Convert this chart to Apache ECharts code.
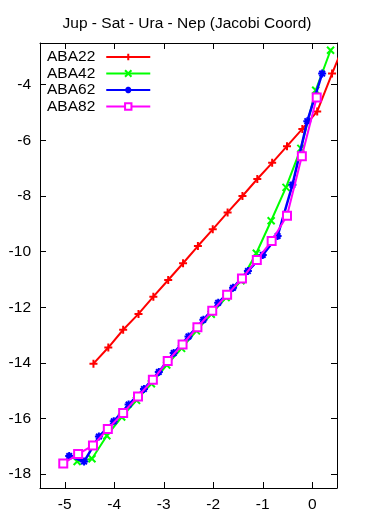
<!DOCTYPE html>
<html>
<head>
<meta charset="utf-8">
<script src="https://cdn.jsdelivr.net/npm/echarts@6/dist/echarts.min.js"></script>
<style>
html,body{margin:0;padding:0;background:#fff;}
#chart{width:374px;height:519px;}
</style>
</head>
<body>
<div id="chart"></div>
<script>
// ---- data ----
const titleText = 'Jup - Sat - Ura - Nep (Jacobi Coord)';
const seriesNames = ['ABA22', 'ABA42', 'ABA62', 'ABA82'];

const xABA22 = [-4.42, -4.12, -3.82, -3.51, -3.21, -2.91, -2.61, -2.31, -2.01, -1.71, -1.41, -1.11, -0.81, -0.51, -0.20, 0.10, 0.40, 0.70];
const yABA22 = [-14.03, -13.45, -12.81, -12.24, -11.62, -11.02, -10.42, -9.80, -9.20, -8.59, -8.00, -7.39, -6.81, -6.21, -5.59, -4.96, -3.60, -2.30];

const xABA42 = [-4.75, -4.45, -4.15, -3.85, -3.55, -3.25, -2.94, -2.64, -2.34, -2.04, -1.74, -1.44, -1.13, -0.83, -0.53, -0.23, 0.07, 0.37];
const yABA42 = [-17.55, -17.45, -16.62, -15.95, -15.35, -14.75, -14.08, -13.48, -12.85, -12.25, -11.65, -11.05, -10.06, -8.89, -7.69, -6.29, -4.20, -2.76];

const xABA62 = [-4.91, -4.61, -4.31, -4.01, -3.71, -3.40, -3.10, -2.80, -2.50, -2.20, -1.90, -1.60, -1.30, -1.00, -0.70, -0.40, -0.10, 0.20];
const yABA62 = [-17.35, -17.55, -16.65, -16.10, -15.50, -14.94, -14.33, -13.65, -13.05, -12.45, -11.84, -11.30, -10.70, -10.12, -9.44, -7.60, -5.31, -3.60];

const xABA82 = [-5.03, -4.73, -4.43, -4.13, -3.82, -3.52, -3.22, -2.92, -2.62, -2.32, -2.02, -1.72, -1.42, -1.12, -0.82, -0.51, -0.21, 0.09];
const yABA82 = [-17.62, -17.28, -16.97, -16.38, -15.80, -15.21, -14.61, -13.93, -13.34, -12.72, -12.13, -11.55, -10.97, -10.30, -9.62, -8.71, -6.57, -4.46];

const xTicks = [-5, -4, -3, -2, -1, 0];
const yTicks = [-18, -16, -14, -12, -10, -8, -6, -4];
const xRange = [-5.5, 0.5];
const yRange = [-18.5, -2.5];

// ---- chart ----
const FONT = 'Liberation Sans';
const zip = (xs, ys) => xs.map((x, i) => [x, ys[i]]);

const symPlus = 'path://M0,5L10,5M5,0L5,10';
const symCross = 'path://M0,0L10,10M10,0L0,10';
const symStar = 'path://M0,5L10,5M5,0L5,10M1.5,1.5L8.5,8.5M8.5,1.5L1.5,8.5';

function mkSeries(name, data, color, symbol, size, lw, z) {
  return {
    name: name, type: 'line', data: data,
    xAxisIndex: 0, yAxisIndex: 0,
    symbol: symbol, symbolSize: size, symbolKeepAspect: true,
    showAllSymbol: true, clip: true, z: z,
    lineStyle: { color: color, width: lw },
    itemStyle: { color: color, borderColor: color, borderWidth: 2 },
    emphasis: { disabled: true }
  };
}

const axisCommon = {
  type: 'value',
  axisLine: { show: true, onZero: false, lineStyle: { color: '#000', width: 1 } },
  axisTick: { show: true, inside: true, length: 6, lineStyle: { color: '#000' } },
  splitLine: { show: false },
  axisLabel: { color: '#000', fontFamily: FONT, fontSize: 15.5 }
};

const chart = echarts.init(document.getElementById('chart'), null, { renderer: 'canvas' });
chart.setOption({
  animation: false,
  backgroundColor: '#fff',
  title: {
    text: titleText, left: 'center', top: 11,
    textStyle: { fontFamily: FONT, fontSize: 15.5, fontWeight: 'normal', color: '#000' }
  },
  legend: {
    data: seriesNames, orient: 'vertical', left: 47, top: 49, align: 'right', padding: 0,
    itemWidth: 44, itemHeight: 8, itemGap: 0.5,
    textStyle: { fontFamily: FONT, fontSize: 15.5, color: '#000', lineHeight: 15, padding: [0, 6, 0, 0] },
    selectedMode: false
  },
  grid: { left: 40, right: 37, top: 43, bottom: 31, containLabel: false },
  xAxis: [
    Object.assign({}, axisCommon, {
      position: 'bottom', min: xRange[0], max: xRange[1],
      axisTick: Object.assign({}, axisCommon.axisTick, { customValues: xTicks }),
      axisLabel: Object.assign({}, axisCommon.axisLabel, { customValues: xTicks, margin: 9 })
    }),
    Object.assign({}, axisCommon, {
      position: 'top', min: xRange[0], max: xRange[1],
      axisTick: Object.assign({}, axisCommon.axisTick, { customValues: xTicks }),
      axisLabel: { show: false }
    })
  ],
  yAxis: [
    Object.assign({}, axisCommon, {
      position: 'left', min: yRange[0], max: yRange[1],
      axisTick: Object.assign({}, axisCommon.axisTick, { customValues: yTicks }),
      axisLabel: Object.assign({}, axisCommon.axisLabel, { customValues: yTicks, margin: 9 })
    }),
    Object.assign({}, axisCommon, {
      position: 'right', min: yRange[0], max: yRange[1],
      axisTick: Object.assign({}, axisCommon.axisTick, { customValues: yTicks }),
      axisLabel: { show: false }
    })
  ],
  series: [
    mkSeries(seriesNames[0], zip(xABA22, yABA22), '#ff0000', symPlus, 8, 2, 2),
    mkSeries(seriesNames[1], zip(xABA42, yABA42), '#00ff00', symCross, 7, 2, 3),
    mkSeries(seriesNames[2], zip(xABA62, yABA62), '#0000ff', symStar, 8, 2.5, 4),
    mkSeries(seriesNames[3], zip(xABA82, yABA82), '#ff00ff', 'emptyRect', 8, 2, 5)
  ]
});
</script>
</body>
</html>
